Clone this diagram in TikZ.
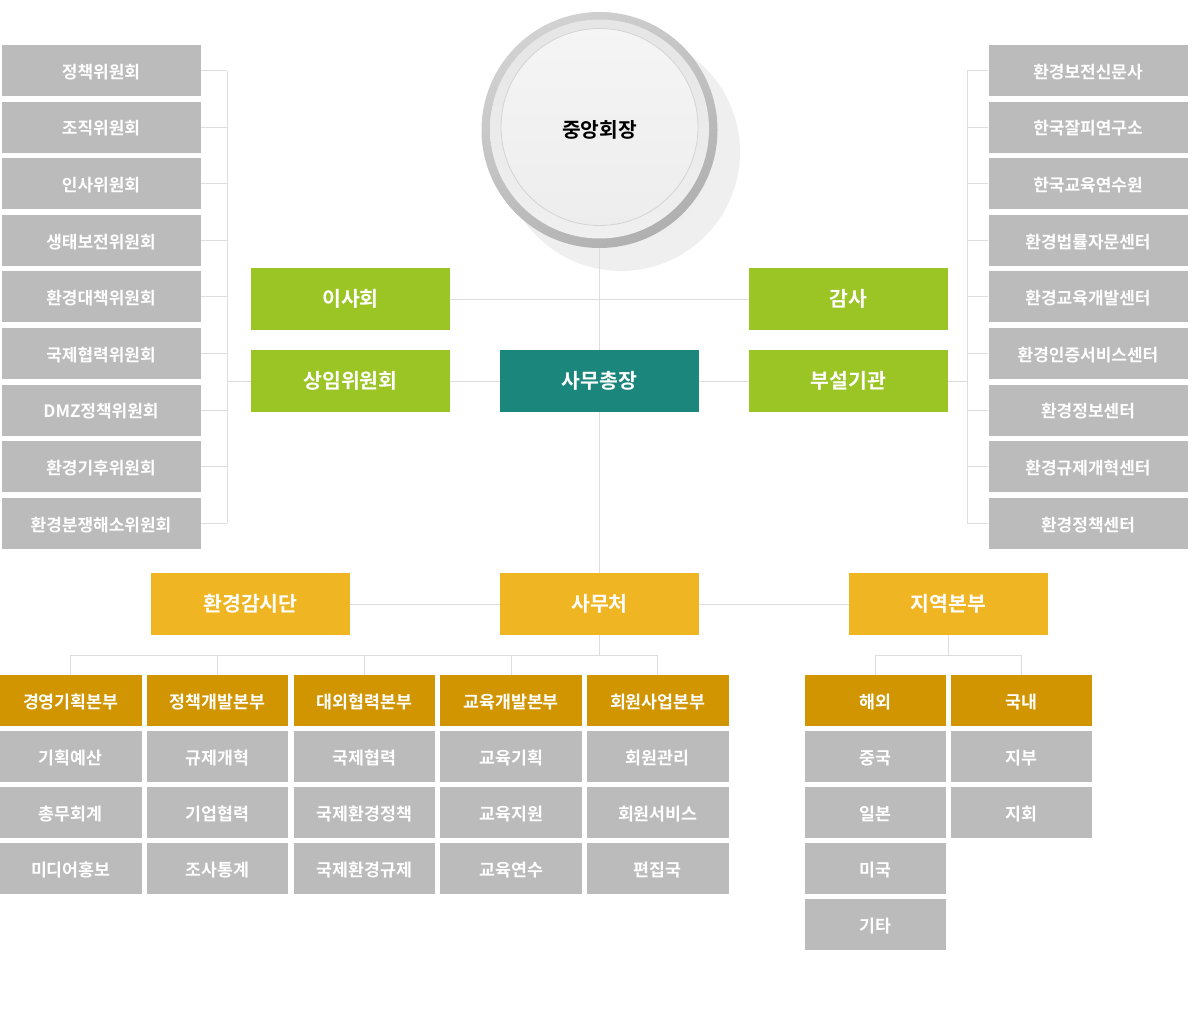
\documentclass[tikz,border=0pt]{standalone}
\usepackage{fontspec}
\newfontfamily\krfont{Noto Sans CJK KR}[BoldFont={Noto Sans CJK KR Bold}]
\usetikzlibrary{backgrounds}

\definecolor{boxgray}{HTML}{BBBBBB}
\definecolor{leafgreen}{HTML}{9BC425}
\definecolor{officeteal}{HTML}{1B877C}
\definecolor{boxyellow}{HTML}{EFB523}
\definecolor{boxgold}{HTML}{D09500}
\definecolor{linegray}{HTML}{DDDDDD}

\pgfdeclareradialshading{chairshadow}{\pgfpoint{0bp}{0bp}}{color(0bp)=(black!7); color(36bp)=(black!6); color(44bp)=(black!3.5); color(50bp)=(white)}

\tikzset{
    box/.style={inner sep=0pt, text=white, font=\krfont\bfseries, text height=1.55em, text depth=0pt},
    sidebox/.style={box, fill=boxgray, minimum width=199pt, minimum height=51pt,
        font=\krfont\bfseries\fontsize{17}{20}\selectfont},
    mainbox/.style={box, minimum width=199pt, minimum height=62pt,
        font=\krfont\bfseries\fontsize{20.5}{24}\selectfont},
    deptbox/.style={box, minimum width=141.5pt, minimum height=51pt,
        font=\krfont\bfseries\fontsize{17.3}{20}\selectfont},
    headbox/.style={deptbox, fill=boxgold},
    cellbox/.style={deptbox, fill=boxgray},
    link/.style={draw=linegray, line width=1pt}
}

\begin{document}
\begin{tikzpicture}[x=1pt,y=-1pt]
    \useasboundingbox (0,0) rectangle (1200,1020);

    % shadow under the chair circle
    \begin{scope}[on background layer]
        \shade[shading=chairshadow] (621,152) circle (119pt);
    \end{scope}

    % chair circle
    \shade[top color=black!18, bottom color=black!31, shading angle=30] (599.5,130) circle (118pt);
    \shade[top color=white!90!black, bottom color=white!94!black] (599.5,129) circle (109.5pt);
    \shade[top color=white!96!black, bottom color=white!93!black, draw=black!17, line width=0.8pt] (599.5,127) circle (98.5pt);
    \node[circle, minimum size=236pt, inner sep=0pt, text height=1.55em, text depth=0pt,
        font=\krfont\bfseries\fontsize{20.3}{24}\selectfont] (chair) at (599.5,130) {중앙회장};

    % committees (left) and affiliated bodies (right)
    \foreach \name [count=\i] in {정책위원회,조직위원회,인사위원회,생태보전위원회,환경대책위원회,국제협력위원회,DMZ정책위원회,환경기후위원회,환경분쟁해소위원회}
        \node[sidebox] (L\i) at (101,{70.5+56.6*(\i-1)}) {\name};
    \foreach \name [count=\i] in {환경보전신문사,한국잘피연구소,한국교육연수원,환경법률자문센터,환경교육개발센터,환경인증서비스센터,환경정보센터,환경규제개혁센터,환경정책센터}
        \node[sidebox] (R\i) at (1088,{70.5+56.6*(\i-1)}) {\name};
    \coordinate (lbar) at (227,0);
    \coordinate (rbar) at (967,0);

    % main boxes
    \node[mainbox, fill=leafgreen] (board) at (350.5,299) {이사회};
    \node[mainbox, fill=leafgreen] (audit) at (848.5,299) {감사};
    \node[mainbox, fill=leafgreen] (standing) at (350.5,381) {상임위원회};
    \node[mainbox, fill=officeteal] (secgen) at (599.5,381) {사무총장};
    \node[mainbox, fill=leafgreen] (annex) at (848.5,381) {부설기관};

    \node[mainbox, fill=boxyellow] (watch) at (250.5,604) {환경감시단};
    \node[mainbox, fill=boxyellow] (office) at (599.5,604) {사무처};
    \node[mainbox, fill=boxyellow] (region) at (948.5,604) {지역본부};

    % headquarters
    \node[headbox] (H1) at (70.8,700.5) {경영기획본부};
    \node[headbox] (H2) at (217.6,700.5) {정책개발본부};
    \node[headbox] (H3) at (364.3,700.5) {대외협력본부};
    \node[headbox] (H4) at (511.1,700.5) {교육개발본부};
    \node[headbox] (H5) at (657.8,700.5) {회원사업본부};
    \foreach \name [count=\r] in {기획예산,총무회계,미디어홍보}
        \node[cellbox] (A\r) at (70.8,{700.5+56*\r}) {\name};
    \foreach \name [count=\r] in {규제개혁,기업협력,조사통계}
        \node[cellbox] (B\r) at (217.6,{700.5+56*\r}) {\name};
    \foreach \name [count=\r] in {국제협력,국제환경정책,국제환경규제}
        \node[cellbox] (C\r) at (364.3,{700.5+56*\r}) {\name};
    \foreach \name [count=\r] in {교육기획,교육지원,교육연수}
        \node[cellbox] (D\r) at (511.1,{700.5+56*\r}) {\name};
    \foreach \name [count=\r] in {회원관리,회원서비스,편집국}
        \node[cellbox] (E\r) at (657.8,{700.5+56*\r}) {\name};

    % regional offices
    \node[headbox] (abroad) at (875.5,700.5) {해외};
    \node[headbox] (home) at (1021.5,700.5) {국내};
    \foreach \name [count=\r] in {중국,일본,미국,기타}
        \node[cellbox] (F\r) at (875.5,{700.5+56*\r}) {\name};
    \foreach \name [count=\r] in {지부,지회}
        \node[cellbox] (G\r) at (1021.5,{700.5+56*\r}) {\name};
    \coordinate (hub) at (0,655);

    % connectors
    \begin{scope}[on background layer]
        \draw[link] (chair.south) -- (office.north);
        \draw[link] (board.east) -- (audit.west);
        \draw[link] (standing.east) -- (secgen.west);
        \draw[link] (secgen.east) -- (annex.west);
        \foreach \i in {1,...,9} {
            \draw[link] (L\i.east) -- (L\i.east -| lbar);
            \draw[link] (R\i.west) -- (R\i.west -| rbar);
        }
        \draw[link] (L1.east -| lbar) -- (L9.east -| lbar);
        \draw[link] (R1.west -| rbar) -- (R9.west -| rbar);
        \draw[link] (standing.west) -- (standing.west -| lbar);
        \draw[link] (annex.east) -- (annex.east -| rbar);
        \draw[link] (watch.east) -- (office.west);
        \draw[link] (office.east) -- (region.west);
        \draw[link] (office.south) -- (office.south |- hub);
        \draw[link] (H1.north |- hub) -- (H5.north |- hub);
        \foreach \i in {1,...,5}
            \draw[link] (H\i.north) -- (H\i.north |- hub);
        \draw[link] (region.south) -- (region.south |- hub);
        \draw[link] (abroad.north |- hub) -- (home.north |- hub);
        \draw[link] (abroad.north) -- (abroad.north |- hub);
        \draw[link] (home.north) -- (home.north |- hub);
    \end{scope}
\end{tikzpicture}
\end{document}
